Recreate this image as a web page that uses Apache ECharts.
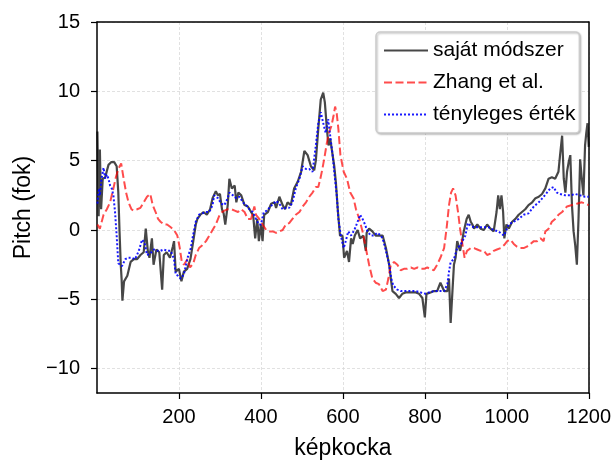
<!DOCTYPE html>
<html>
<head>
<meta charset="utf-8">
<script src="https://cdn.jsdelivr.net/npm/echarts@6/dist/echarts.min.js"></script>
<style>
  html, body { margin: 0; padding: 0; background: #fff; }
  #chart { width: 614px; height: 465px; }
</style>
</head>
<body>
<div id="chart"></div>
<script>
// sajat modszer (fekete)
var ownFrames = [1, 4, 7, 10, 14, 20, 28, 35, 42, 48, 52, 55, 58, 60, 62, 66, 74, 82, 90, 98, 106, 114, 119, 124, 128, 134, 138, 145, 152, 156, 159, 163, 170, 178, 185, 188, 192, 200, 206, 212, 220, 228, 236, 241, 245, 252, 260, 268, 276, 282, 290, 295, 300, 305, 309, 313, 319, 323, 329, 336, 340, 345, 352, 360, 368, 376, 381, 386, 391, 395, 400, 404, 408, 417, 425, 433, 437, 445, 453, 459, 465, 473, 481, 490, 498, 506, 514, 522, 530, 534, 540, 546, 552, 556, 561, 565, 569, 573, 579, 583, 588, 593, 599, 603, 610, 615, 620, 624, 629, 636, 642, 650, 656, 658, 664, 672, 680, 688, 697, 705, 713, 717, 721, 729, 737, 745, 753, 761, 770, 778, 786, 794, 800, 804, 814, 822, 830, 838, 847, 855, 859, 863, 867, 871, 875, 879, 886, 891, 895, 902, 907, 912, 916, 920, 928, 936, 944, 952, 960, 968, 975, 979, 983, 987, 991, 994, 999, 1005, 1013, 1021, 1029, 1037, 1045, 1053, 1062, 1070, 1078, 1086, 1094, 1102, 1110, 1118, 1126, 1130, 1135, 1139, 1143, 1147, 1151, 1155, 1159, 1163, 1167, 1171, 1175, 1179, 1183, 1187, 1191, 1194, 1197, 1200];
var ownValues = [7.1, 1.0, 5.8, 1.5, 3.7, 3.8, 4.7, 4.9, 4.9, 4.6, 2.7, -0.1, -2.5, -3.5, -5.1, -3.7, -3.3, -2.3, -2.1, -2.1, -1.8, -1.6, 0.1, -1.5, -2.0, -0.6, -2.5, -1.4, -1.6, -1.5, -4.3, -1.8, -1.6, -2.0, -1.2, -0.8, -3.0, -2.8, -3.7, -3.0, -2.8, -2.1, -0.6, 0.4, 0.8, 1.1, 1.3, 1.1, 1.5, 2.3, 2.8, 2.5, 2.6, 1.5, 1.2, 0.4, 1.8, 3.7, 3.0, 3.2, 2.0, 2.7, 2.5, 1.8, 1.7, 1.3, 1.1, -0.6, 0.8, -0.8, 0.4, -0.8, 1.1, 1.3, 1.9, 2.0, 1.6, 2.4, 1.8, 1.5, 2.0, 1.8, 3.0, 3.5, 4.2, 5.7, 5.4, 4.6, 4.3, 5.0, 7.3, 9.4, 9.9, 9.2, 7.3, 6.1, 6.6, 5.8, 4.6, 3.4, 1.3, -0.4, -0.4, -2.0, -1.5, -2.3, -0.6, -1.0, -0.4, 0.0, -0.6, -0.4, -1.5, -0.2, 0.1, -0.1, -0.4, -0.4, -0.4, -1.3, -2.5, -3.5, -4.4, -4.6, -4.9, -4.6, -4.5, -4.5, -4.5, -4.5, -4.6, -4.9, -6.3, -4.6, -4.5, -4.4, -4.4, -3.8, -4.4, -4.4, -3.5, -6.7, -4.6, -2.5, -2.0, -0.8, -1.5, -0.8, -0.1, 0.8, 1.1, 0.6, 0.4, 0.1, 0.4, 0.1, 0.0, 0.4, 0.1, -0.1, 1.3, 2.5, 1.5, 2.5, 1.3, -0.6, 0.4, 0.1, 0.6, 0.8, 1.1, 1.3, 1.5, 1.8, 2.0, 2.3, 2.4, 2.6, 3.0, 3.7, 3.8, 3.7, 4.2, 5.4, 6.8, 3.7, 2.7, 4.2, 4.9, 5.4, 1.8, -0.1, -1.1, -2.5, 0.8, 5.1, 3.7, 2.5, 6.1, 7.0, 7.7, 6.0];

// Zhang et al. (piros)
var zhangFrames = [1, 7, 16, 24, 32, 40, 46, 52, 59, 65, 71, 77, 84, 89, 98, 106, 114, 122, 130, 136, 143, 149, 155, 163, 171, 180, 188, 196, 202, 207, 212, 221, 227, 235, 241, 249, 257, 266, 274, 282, 290, 298, 305, 311, 319, 328, 336, 344, 352, 360, 368, 376, 384, 388, 396, 404, 413, 421, 429, 437, 445, 453, 461, 469, 477, 485, 494, 502, 510, 518, 526, 534, 540, 545, 550, 556, 561, 566, 572, 577, 581, 585, 589, 594, 602, 610, 618, 626, 632, 640, 648, 656, 664, 672, 680, 688, 697, 705, 711, 717, 725, 733, 741, 749, 757, 766, 774, 782, 790, 798, 806, 814, 822, 830, 838, 847, 853, 859, 864, 869, 875, 881, 886, 891, 897, 903, 912, 920, 928, 936, 944, 952, 960, 968, 976, 985, 993, 1001, 1009, 1017, 1025, 1033, 1041, 1049, 1058, 1066, 1074, 1082, 1090, 1094, 1102, 1110, 1118, 1126, 1135, 1147, 1159, 1171, 1183, 1191, 1200];
var zhangValues = [0.4, 0.1, 1.1, 1.5, 2.0, 3.0, 3.8, 4.4, 4.8, 3.7, 2.7, 2.0, 1.5, 1.4, 1.5, 1.6, 2.0, 2.4, 2.6, 1.8, 1.3, 0.8, 0.6, 0.4, 0.4, 0.2, 0.0, -0.4, -1.3, -2.3, -2.5, -2.1, -2.7, -2.4, -1.8, -1.3, -1.1, -0.8, -0.4, 0.0, 0.4, 1.0, 1.3, 1.4, 1.5, 1.5, 1.4, 1.3, 1.5, 1.3, 0.8, 0.8, 1.7, 1.1, 0.8, 0.4, 0.0, -0.1, -0.1, -0.2, -0.1, 0.0, 0.4, 0.5, 0.8, 1.1, 1.3, 1.7, 2.0, 2.4, 2.7, 3.1, 3.1, 3.7, 4.4, 5.4, 6.3, 7.0, 7.5, 8.2, 8.9, 8.4, 7.3, 5.4, 4.2, 3.7, 2.7, 2.3, 1.5, 0.8, -0.1, -1.3, -2.5, -3.5, -3.8, -3.9, -4.4, -4.3, -3.5, -2.5, -2.3, -2.5, -2.9, -2.8, -2.8, -2.7, -2.8, -2.7, -2.8, -2.8, -2.7, -2.8, -2.9, -2.5, -2.0, -1.3, 0.1, 1.8, 2.7, 3.0, 2.5, 1.3, 0.1, -0.9, -2.0, -1.5, -1.3, -1.3, -1.4, -1.5, -1.5, -1.8, -1.7, -1.5, -1.4, -1.3, -1.1, -0.8, -0.7, -1.0, -1.2, -1.3, -1.3, -1.2, -1.0, -0.8, -0.8, -0.6, -0.8, -0.1, 0.1, 0.6, 0.8, 1.1, 1.3, 1.7, 1.8, 1.9, 2.0, 1.9, 1.8];

// tényleges érték (kék)
var trueFrames = [1, 5, 7, 11, 16, 20, 24, 28, 32, 36, 40, 44, 48, 52, 61, 69, 77, 85, 93, 102, 110, 116, 122, 130, 139, 147, 155, 163, 171, 180, 188, 192, 198, 204, 212, 221, 229, 233, 241, 249, 257, 266, 274, 282, 286, 295, 303, 311, 319, 323, 332, 340, 348, 356, 364, 372, 380, 388, 395, 400, 407, 415, 423, 431, 437, 445, 453, 461, 469, 477, 485, 494, 502, 510, 518, 526, 534, 540, 546, 553, 558, 564, 569, 575, 580, 585, 589, 595, 602, 607, 613, 620, 628, 636, 642, 648, 654, 660, 668, 676, 684, 693, 699, 705, 713, 718, 723, 733, 741, 753, 766, 778, 790, 802, 810, 822, 834, 847, 855, 859, 863, 871, 879, 887, 895, 899, 905, 912, 920, 932, 944, 956, 968, 980, 993, 1005, 1017, 1029, 1041, 1053, 1066, 1078, 1090, 1098, 1106, 1114, 1122, 1130, 1143, 1155, 1167, 1179, 1191, 1200];
var trueValues = [1.9, 3.0, 2.5, 3.7, 4.5, 3.7, 4.0, 3.7, 3.2, 3.0, 2.5, 1.3, -0.4, -2.4, -2.6, -2.1, -2.0, -2.0, -2.1, -1.5, -0.7, -0.9, -1.8, -1.7, -1.4, -1.5, -1.5, -1.4, -1.5, -1.5, -2.1, -3.2, -3.3, -3.5, -3.2, -2.0, -1.3, -0.6, 0.6, 1.1, 1.2, 1.3, 1.3, 1.8, 2.5, 2.3, 1.9, 1.8, 2.3, 2.7, 2.5, 2.3, 2.4, 2.0, 1.8, 1.5, 1.3, 0.8, 0.4, 0.4, 1.3, 1.4, 1.7, 1.9, 2.1, 1.9, 1.5, 1.6, 1.6, 2.0, 3.0, 3.7, 4.6, 4.4, 4.4, 4.2, 6.1, 7.7, 8.5, 7.6, 7.0, 8.0, 6.8, 5.4, 3.9, 2.5, 0.8, -0.4, -1.3, -0.8, -0.1, -0.4, 0.0, 0.6, 1.1, 0.8, 0.4, -0.1, -0.4, -0.4, -0.2, -0.4, -0.8, -1.5, -2.5, -3.5, -4.0, -4.3, -4.4, -4.4, -4.4, -4.4, -4.5, -4.6, -4.5, -4.4, -4.4, -4.4, -3.9, -3.0, -2.3, -2.1, -1.3, -1.1, -0.6, -0.4, 0.5, 0.3, 0.2, 0.2, 0.2, 0.2, 0.0, -0.1, -0.4, 0.4, 0.6, 0.8, 1.1, 1.2, 1.7, 2.0, 2.4, 2.7, 3.0, 3.1, 2.7, 2.6, 2.5, 2.5, 2.6, 2.5, 2.4, 2.4];

var xTicks = [200, 400, 600, 800, 1000, 1200];
var yTicks = [-10, -5, 0, 5, 10, 15];

function pairs(frames, vals) {
    return frames.map(function (f, i) { return [f, vals[i]]; });
}

var chart = echarts.init(document.getElementById('chart'), null, { renderer: 'canvas' });
var font = 'Liberation Sans, Arial, sans-serif';
var gridLine = { show: true, lineStyle: { color: '#d9d9d9', width: 0.8, type: [3, 2] } };
var spine = { show: true, onZero: false, lineStyle: { color: '#000', width: 1.5 } };

var option = {
    animation: false,
    textStyle: { fontFamily: font },
    grid: { left: 97, right: 24, top: 22, bottom: 70 },
    legend: {
        orient: 'vertical',
        left: 376, top: 32,
        itemWidth: 44, itemHeight: 14, itemGap: 11,
        padding: [8, 4, 8, 7],
        backgroundColor: '#fff',
        borderColor: '#ccc', borderWidth: 1.5, borderRadius: 4,
        shadowColor: 'rgba(0,0,0,0.25)', shadowBlur: 2, shadowOffsetX: 1, shadowOffsetY: 1,
        itemStyle: { opacity: 0 },
        textStyle: { fontSize: 21, color: '#000', fontFamily: font, lineHeight: 20 },
        data: ['saját módszer', 'Zhang et al.', 'tényleges érték']
    },
    xAxis: [{
        type: 'value', min: 0, max: 1200,
        name: 'képkocka', nameLocation: 'middle', nameGap: 44,
        nameTextStyle: { fontSize: 23, color: '#000', fontFamily: font },
        axisLine: spine,
        axisTick: { show: true, inside: false, length: 6, customValues: xTicks, lineStyle: { color: '#000', width: 1.2 } },
        axisLabel: {
            customValues: xTicks, fontSize: 20, color: '#000', margin: 14, fontFamily: font,
            formatter: function (v) { return String(v); }
        },
        splitLine: gridLine
    }, {
        type: 'value', position: 'top', min: 0, max: 1200,
        axisLine: spine, axisTick: { show: false }, axisLabel: { show: false }, splitLine: { show: false }
    }],
    yAxis: [{
        type: 'value', min: -11.75, max: 15,
        name: 'Pitch (fok)', nameLocation: 'middle', nameGap: 62,
        nameTextStyle: { fontSize: 23, color: '#000', fontFamily: font },
        axisLine: spine,
        axisTick: { show: true, inside: false, length: 6, customValues: yTicks, lineStyle: { color: '#000', width: 1.2 } },
        axisLabel: {
            customValues: yTicks, fontSize: 20, color: '#000', margin: 17, fontFamily: font,
            formatter: function (v) { return String(v).replace('-', '\u2212'); }
        },
        splitLine: gridLine
    }, {
        type: 'value', position: 'right', min: -11.75, max: 15,
        axisLine: spine, axisTick: { show: false }, axisLabel: { show: false }, splitLine: { show: false }
    }],
    series: [
        {
            name: 'saját módszer', type: 'line', symbol: 'none', z: 2,
            data: pairs(ownFrames, ownValues),
            itemStyle: { color: '#000' },
            lineStyle: { color: 'rgba(0,0,0,0.72)', width: 2.2 }
        },
        {
            name: 'Zhang et al.', type: 'line', symbol: 'none', z: 3,
            data: pairs(zhangFrames, zhangValues),
            itemStyle: { color: '#ff0000' },
            lineStyle: { color: 'rgba(255,0,0,0.7)', width: 2, type: [8, 3.5] }
        },
        {
            name: 'tényleges érték', type: 'line', symbol: 'none', z: 4,
            data: pairs(trueFrames, trueValues),
            itemStyle: { color: '#0000ff' },
            lineStyle: { color: 'rgba(0,0,255,0.9)', width: 2, type: [2, 2] }
        }
    ]
};

chart.setOption(option);
</script>
</body>
</html>
